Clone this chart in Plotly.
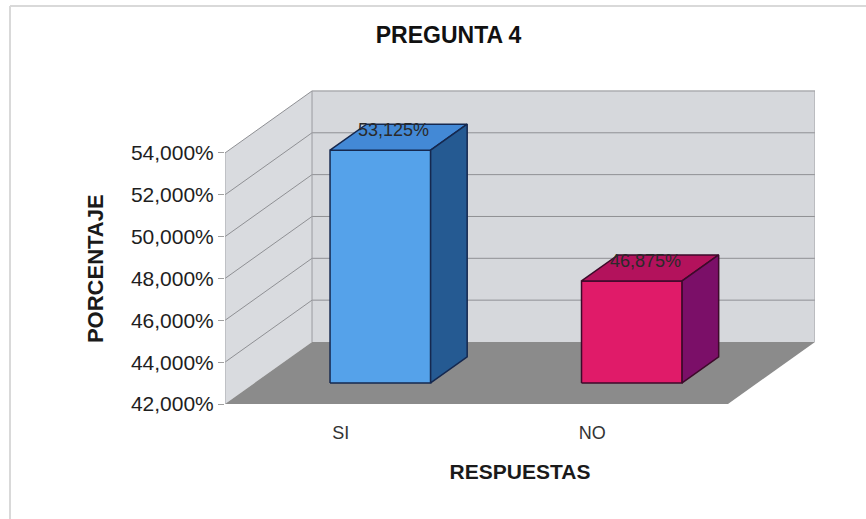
import plotly.graph_objects as go

# Chart data
categories = ["SI", "NO"]
values = [53.125, 46.875]
value_labels = ["53,125%", "46,875%"]
y_ticks = [42, 44, 46, 48, 50, 52, 54]
y_tick_labels = ["42,000%", "44,000%", "46,000%", "48,000%", "50,000%", "52,000%", "54,000%"]

# Styling
front_colors = ["#55a2ea", "#e01b69"]
top_colors = ["#4389d6", "#b3125c"]
side_colors = ["#255a92", "#7b0f68"]
edge_colors = ["#15284f", "#3d0a2a"]

Y_MIN, Y_MAX = 42, 54
N = len(categories)
DU, DV = 0.346, 2.964          # depth offset of the back plane (x units, % units)
F0, F1 = 0.34, 0.76            # bar depth span as fraction of full depth
BAR_W = 0.40
WALL = "#d6d8dc"
FLOOR = "#8b8b8b"
GRID = "#8f9094"

fig = go.Figure()


def poly(xs, ys, fill, line_color=None, line_width=0):
    fig.add_trace(go.Scatter(
        x=xs + [xs[0]], y=ys + [ys[0]], mode="lines", fill="toself",
        fillcolor=fill, line=dict(color=line_color or fill, width=line_width),
        hoverinfo="skip", showlegend=False))


def seg(x0, y0, x1, y1, color=GRID, width=1):
    fig.add_trace(go.Scatter(
        x=[x0, x1], y=[y0, y1], mode="lines",
        line=dict(color=color, width=width),
        hoverinfo="skip", showlegend=False))


# Back wall, side wall, floor
poly([DU, N + DU, N + DU, DU], [Y_MIN + DV, Y_MIN + DV, Y_MAX + DV, Y_MAX + DV], WALL)
poly([0, DU, DU, 0], [Y_MIN, Y_MIN + DV, Y_MAX + DV, Y_MAX], "#d9dbdf")
poly([0, N, N + DU, DU], [Y_MIN, Y_MIN, Y_MIN + DV, Y_MIN + DV], FLOOR)

# Gridlines on the walls
for t in y_ticks[1:]:
    seg(DU, t + DV, N + DU, t + DV)
    seg(0, t, DU, t + DV)
seg(DU, Y_MIN + DV, DU, Y_MAX + DV, "#9a9ba0")
seg(N + DU, Y_MIN + DV, N + DU, Y_MAX + DV, "#a0a1a5")
seg(0, Y_MIN, 0, Y_MAX, "#a6a7ab")

# 3D bars
for i, v in enumerate(values):
    xl = i + 0.5 - BAR_W / 2
    xr = i + 0.5 + BAR_W / 2
    ox0, oy0 = F0 * DU, F0 * DV
    ox1, oy1 = F1 * DU, F1 * DV
    ec = edge_colors[i]
    # front face
    poly([xl + ox0, xr + ox0, xr + ox0, xl + ox0],
         [Y_MIN + oy0, Y_MIN + oy0, v + oy0, v + oy0], front_colors[i], ec, 1.5)
    # top face
    poly([xl + ox0, xr + ox0, xr + ox1, xl + ox1],
         [v + oy0, v + oy0, v + oy1, v + oy1], top_colors[i], ec, 1.5)
    # side face
    poly([xr + ox0, xr + ox1, xr + ox1, xr + ox0],
         [Y_MIN + oy0, Y_MIN + oy1, v + oy1, v + oy0], side_colors[i], ec, 1.5)
    # value label above the bar top
    fm = (F0 + F1) / 2
    fig.add_annotation(x=i + 0.5 + fm * DU - 0.02, y=v + fm * DV, text=value_labels[i],
                       showarrow=False, yshift=7,
                       font=dict(family="Arial, Liberation Sans", size=18, color="#2a2a2a"))

# Vertical axis title, centred on the front wall
fig.add_annotation(xref="paper", x=(95 - 225) / 590, y=(Y_MIN + Y_MAX) / 2 + 0.45,
                   text="<b>PORCENTAJE</b>", textangle=-90, showarrow=False,
                   xanchor="center", yanchor="middle",
                   font=dict(family="Arial, Liberation Sans", size=22, color="#1a1a1a"))

fig.update_layout(
    width=866, height=519,
    margin=dict(l=225, r=51, t=60, b=115),
    paper_bgcolor="white", plot_bgcolor="white",
    title=dict(text="<b>PREGUNTA 4</b>", x=0.518, xanchor="center", y=0.932, yanchor="middle",
               font=dict(family="Liberation Sans Narrow, Arial Narrow, Arial", size=23, color="#111111")),
    xaxis=dict(range=[0, N + DU], tickvals=[0.46, 1.46], ticktext=categories,
               showgrid=False, zeroline=False, showline=False, ticks="",
               ticklabelstandoff=16,
               tickfont=dict(family="Arial, Liberation Sans", size=18, color="#333333"),
               title=dict(text="<b>RESPUESTAS</b>", standoff=22,
                          font=dict(family="Arial, Liberation Sans", size=21, color="#1a1a1a"))),
    yaxis=dict(range=[Y_MIN, Y_MIN + 344 / 20.92], tickvals=y_ticks, ticktext=y_tick_labels,
               showgrid=False, zeroline=False, showline=False,
               ticks="outside", ticklen=6, tickcolor="#a0a0a0",
               tickfont=dict(family="Arial, Liberation Sans", size=21, color="#1e1e1e")),
)

# Thin frame around the chart area
fig.add_shape(type="line", xref="paper", yref="paper",
              x0=(10 - 225) / 590, x1=(866 - 225) / 590, y0=(519 - 6 - 115) / 344, y1=(519 - 6 - 115) / 344,
              line=dict(color="#d9d9d9", width=2))
fig.add_shape(type="line", xref="paper", yref="paper",
              x0=(10 - 225) / 590, x1=(10 - 225) / 590, y0=-115 / 344, y1=(519 - 6 - 115) / 344,
              line=dict(color="#d9d9d9", width=2))

fig.write_html("out.html")
